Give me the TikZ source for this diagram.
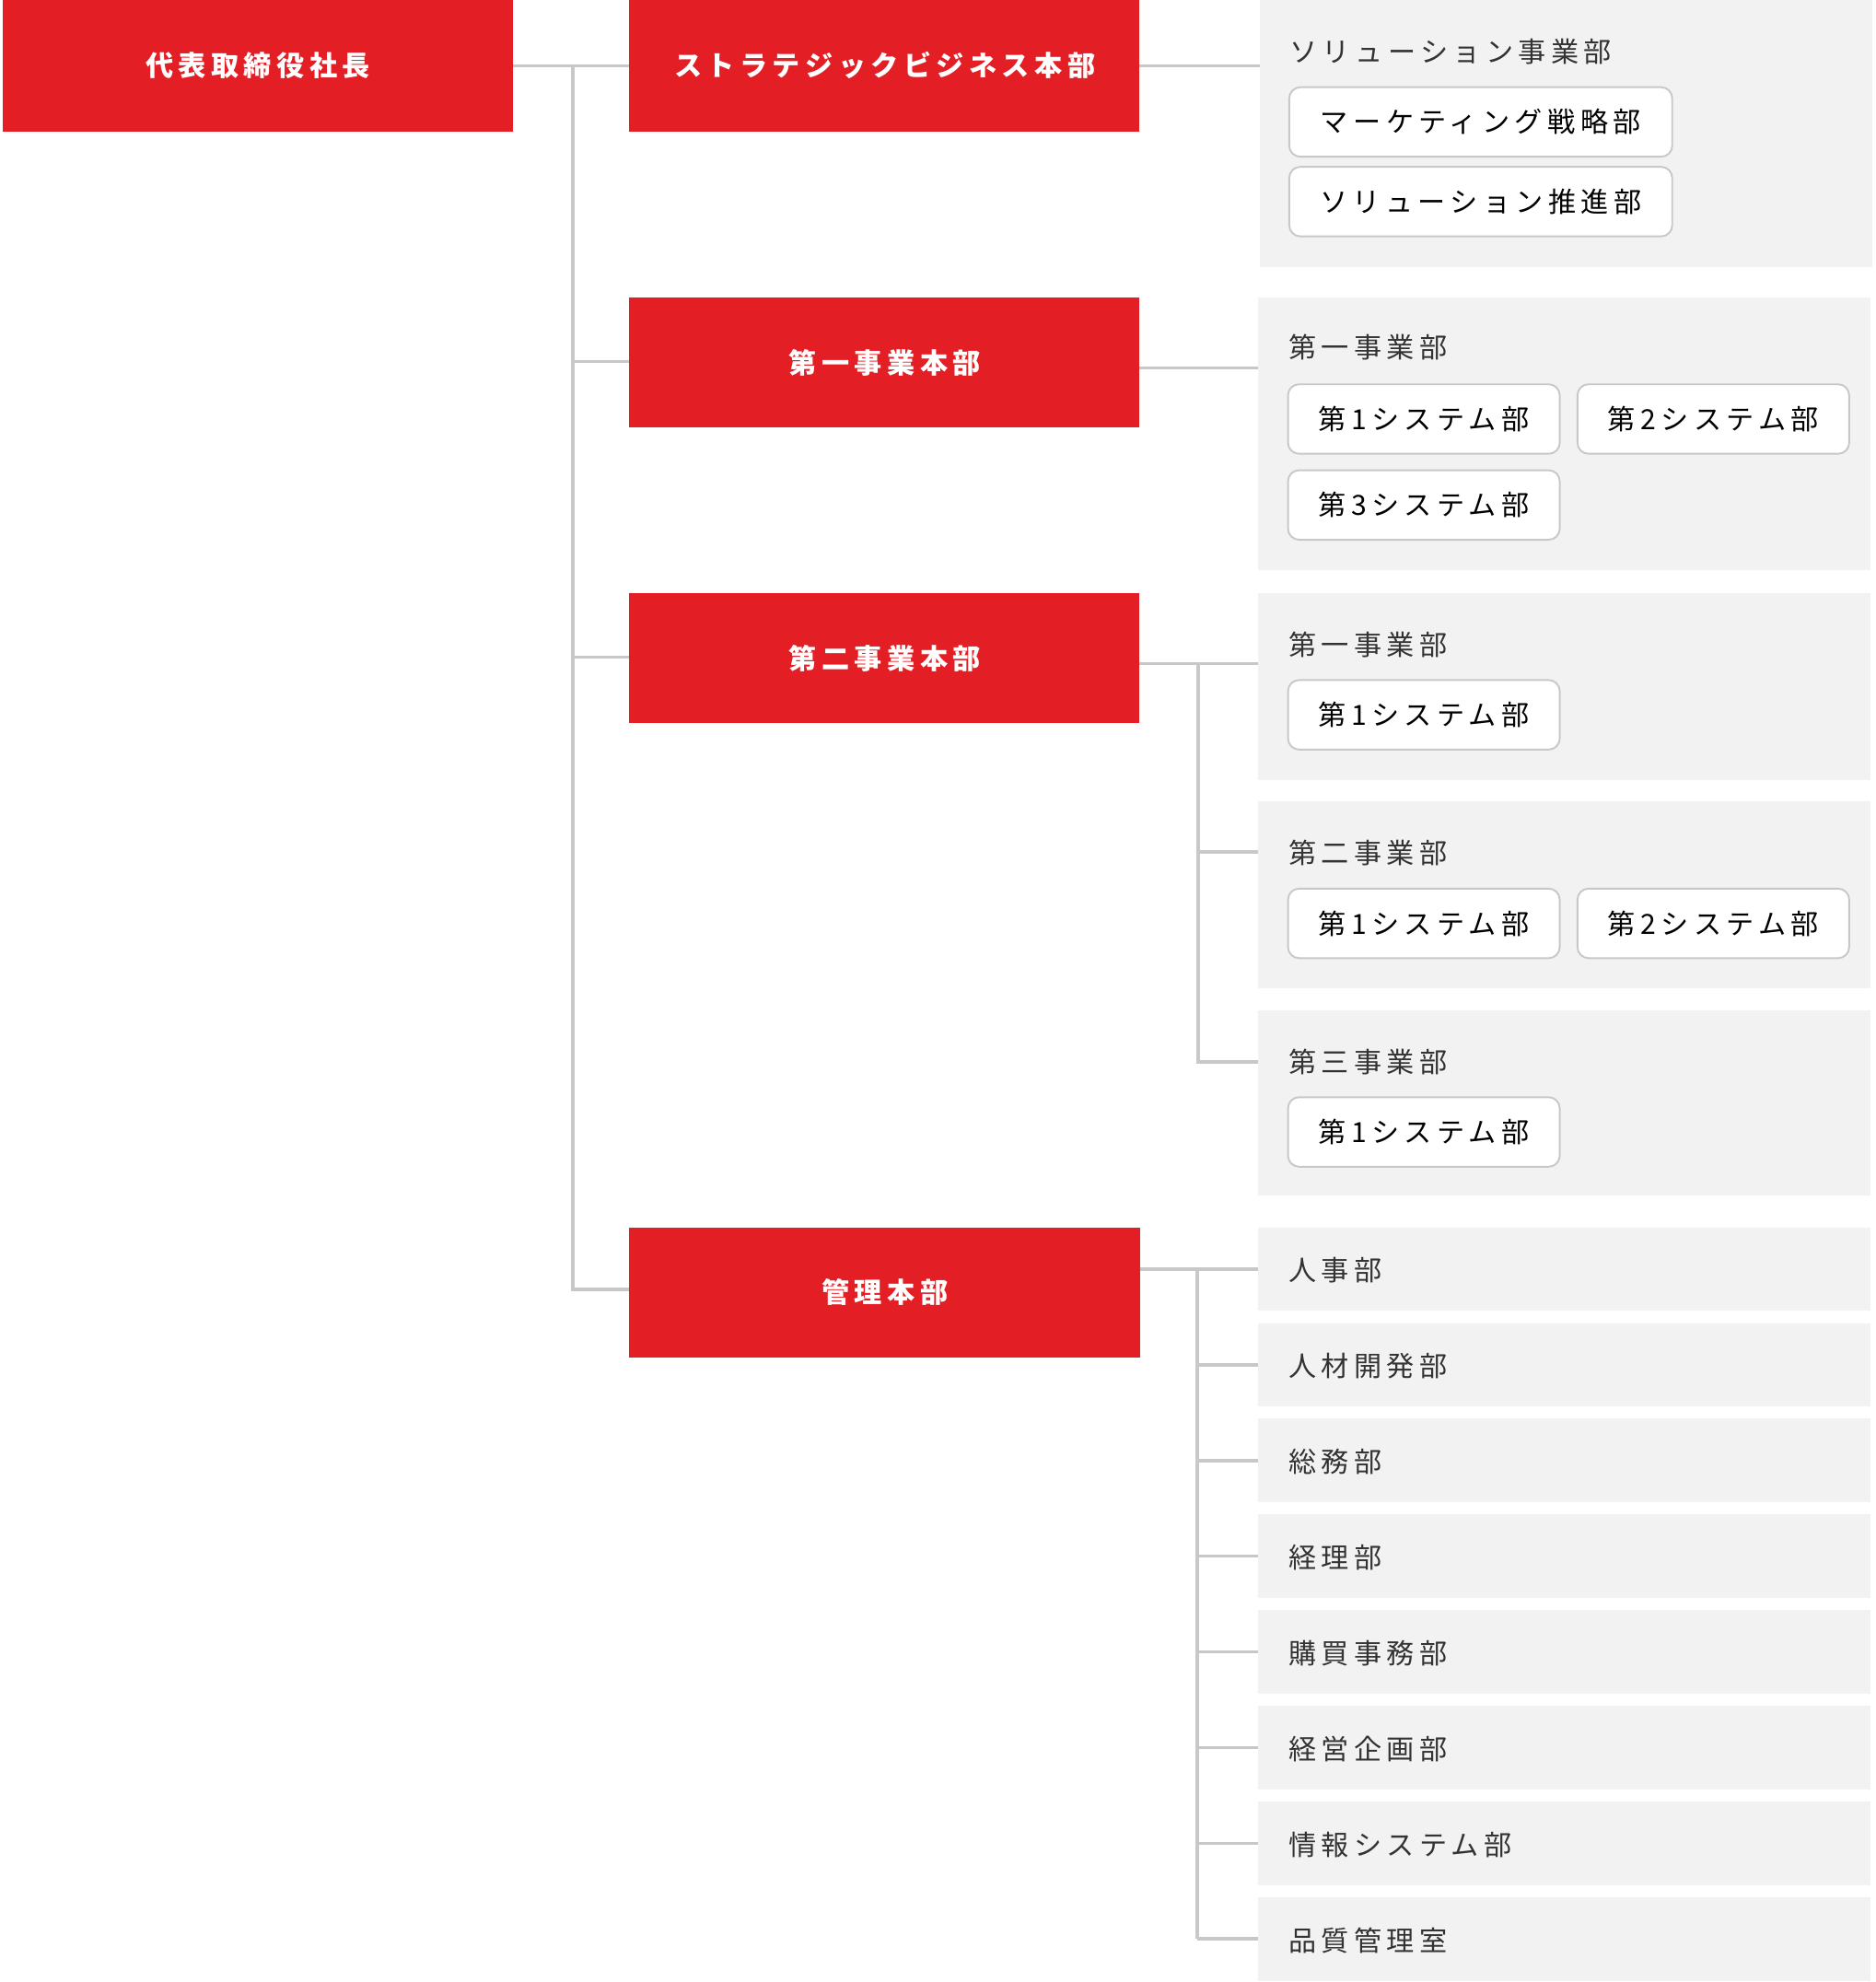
\documentclass[tikz,border=0pt]{standalone}
\usepackage{fontspec}
\setmainfont{Noto Sans CJK JP}[LetterSpace=18]
\begin{document}
\begin{tikzpicture}[x=0.02cm,y=-0.02cm,
  red/.style={fill=rd,draw=none,text=white,font=\bfseries\fontsize{12.5}{14}\selectfont,inner sep=0},
  pan/.style={fill=pg,draw=none},
  sub/.style={draw=bd,fill=white,rounded corners=5pt,line width=0.8pt,minimum width=215*0.02cm,minimum height=55*0.02cm,font=\fontsize{12.5}{14}\selectfont,inner sep=0},
  ttl/.style={anchor=west,font=\fontsize{12.5}{14}\selectfont,inner sep=0,text=tx},
  ln/.style={draw=lc,line width=1.5pt}]
\definecolor{rd}{HTML}{E31E24}\definecolor{pg}{HTML}{F2F2F2}\definecolor{bd}{HTML}{C8C8C8}
\definecolor{lc}{HTML}{C8C8C8}\definecolor{tx}{HTML}{333333}
\useasboundingbox (0,0) rectangle (1484,1568);
% red boxes
\path[red] (2,0) rectangle (406,104); \node[red] (ceo) at (204,52) {代表取締役社長};
\path[red] (498,0) rectangle (901,104); \node[red] (sb) at (700,52) {ストラテジックビジネス本部};
\path[red] (498,235) rectangle (901,338); \node[red] (d1) at (700,287) {第一事業本部};
\path[red] (498,469) rectangle (901,572); \node[red] (d2) at (700,521) {第二事業本部};
\path[red] (498,971) rectangle (902,1074); \node[red] (mg) at (700,1022) {管理本部};
% trunk
\coordinate (t0) at (453,52); \coordinate (t1) at (453,286); \coordinate (t2) at (453,520); \coordinate (t3) at (453,1020);
\draw[ln] (406,52) -- (498,52);
\draw[ln] (t0) -- (t3) -- (498,1020);
\draw[ln] (t1) -- (498,286); \draw[ln] (t2) -- (498,520);
% panels
\path[pan] (997,0) rectangle (1481,211);
\node[ttl] (p1) at (1020,41) {ソリューション事業部};
\node[sub,minimum width=303*0.02cm] (p1a) at (1171.5,96.5) {マーケティング戦略部};
\node[sub,minimum width=303*0.02cm] (p1b) at (1171.5,159.5) {ソリューション推進部};
\draw[ln] (901,52) -- (997,52);
\path[pan] (995,235) rectangle (1480,451);
\node[ttl] (p2) at (1019,275) {第一事業部};
\node[sub] at (1126.5,331.5) {第1システム部};
\node[sub] at (1355.5,331.5) {第2システム部};
\node[sub] at (1126.5,399.5) {第3システム部};
\draw[ln] (901,291) -- (995,291);
\path[pan] (995,469) rectangle (1480,617);
\node[ttl] at (1019,510) {第一事業部};
\node[sub] at (1126.5,565.5) {第1システム部};
\path[pan] (995,634) rectangle (1480,782);
\node[ttl] at (1019,675) {第二事業部};
\node[sub] at (1126.5,730.5) {第1システム部};
\node[sub] at (1355.5,730.5) {第2システム部};
\path[pan] (995,799) rectangle (1480,946);
\node[ttl] at (1019,840) {第三事業部};
\node[sub] at (1126.5,895.5) {第1システム部};
\draw[ln] (901,525) -- (995,525);
\draw[ln] (948,525) -- (948,840) -- (995,840);
\draw[ln] (948,674) -- (995,674);
% management
\draw[ln] (902,1004) -- (995,1004);
\draw[ln] (947,1004) -- (947,1534);
\foreach \t [count=\i from 0] in {人事部,人材開発部,総務部,経理部,購買事務部,経営企画部,情報システム部,品質管理室}{
  \pgfmathsetmacro\yy{971+75.7*\i}
  \path[pan] (995,\yy) rectangle (1480,\yy+66);
  \node[ttl] at (1019,\yy+34) {\t};
  \ifnum\i>0 \draw[ln] (947,\yy+33) -- (995,\yy+33);\fi
}
\end{tikzpicture}
\end{document}
